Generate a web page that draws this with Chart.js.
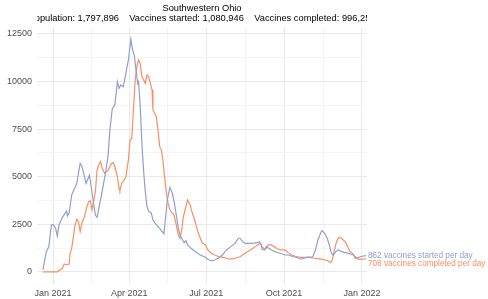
<!DOCTYPE html>
<html>
<head>
<meta charset="utf-8">
<script src="https://cdn.jsdelivr.net/npm/chart.js@4/dist/chart.umd.min.js"></script>
<style>
  html, body { margin: 0; padding: 0; background: #fff; }
  #wrap { width: 488px; height: 299px; }
</style>
</head>
<body>
<div id="wrap"><canvas id="vaxChart" width="488" height="299"></canvas></div>
<script>
// days counted from 1 Jan 2021
const startedDays = [-12,-8,-5,-2,0,3,5,7,11,16,17,19,22,28,32,34,39,41,43,47,50,52,57,62,65,67,70,73,75,76,78,80,83,86,89,92,94,96,98,100,101,103,105,107,109,111,113,116,118,122,126,130,131,133,135,138,141,143,146,148,150,153,155,157,159,163,168,174,180,183,187,191,195,200,205,210,215,219,221,224,227,235,241,244,246,247,250,252,255,258,262,268,274,278,284,288,293,296,300,307,310,313,317,318,321,324,327,329,331,334,337,341,345,349,355,359,363,367,370];
const startedValues = [105,1066,1330,2470,2500,2290,1890,2470,2870,3200,2940,3110,4040,4650,5700,5565,4650,4870,5090,3870,2990,2870,4000,5200,6100,7400,8590,8770,9560,9990,9640,9820,9730,10430,11130,12220,11650,11390,10600,9900,10000,8700,6700,5300,4200,3430,3170,3110,2730,2470,2290,2065,2000,2900,3780,4450,4130,3690,2900,2290,1940,1680,1540,1640,1420,1240,1070,890,770,670,580,630,720,890,1155,1330,1500,1770,1770,1590,1500,1500,1540,1590,1420,1190,1155,1330,1240,1155,1070,980,890,890,800,770,670,720,770,800,1155,1680,2120,2170,2030,1770,1330,980,890,1070,1155,1070,1015,980,890,720,800,840,862];

const completedDays = [-12,3,5,8,11,13,16,19,20,22,24,26,28,30,32,34,37,40,42,44,46,50,52,54,56,58,61,65,69,71,73,76,78,79,81,84,86,89,91,93,95,97,99,101,103,105,107,109,111,113,115,117,118,120,122,124,126,128,130,132,134,136,138,140,143,146,148,150,152,154,157,159,162,164,168,171,174,176,180,183,187,191,196,201,205,209,215,221,227,233,239,243,245,247,250,252,254,258,264,268,274,278,282,288,294,302,309,317,325,328,330,332,335,337,339,343,346,349,351,354,357,361,367,370];
const completedValues = [0,0,0,105,190,420,370,420,980,1240,1850,2470,2770,2640,2120,2560,2900,3430,3690,3740,3260,4220,5350,5620,5790,5440,5180,5350,5700,5740,5530,5000,4390,4270,4650,4830,5000,5880,6930,7020,8500,10080,10780,11130,10950,10250,10080,9900,10340,10250,9900,9560,8500,8330,8150,7450,6580,6400,5800,4900,4100,3600,3260,3110,2990,2380,1940,1770,2200,2900,3430,3780,3520,3170,2640,2120,1770,1540,1420,1155,980,890,800,770,720,670,720,800,980,1155,1330,1470,1500,1330,1190,1240,1420,1420,1240,1155,1155,1015,890,800,770,770,720,670,590,490,630,1070,1590,1770,1820,1680,1540,1240,1070,980,720,670,670,708];

// x ticks: quarter starts (labelled) and mid points (minor grid)
const xTickDays = [0, 45, 90, 135, 181, 227, 273, 319, 365];
const xTickLabels = ['Jan 2021', '', 'Apr 2021', '', 'Jul 2021', '', 'Oct 2021', '', 'Jan 2022'];
const yTickValues = [0, 1250, 2500, 3750, 5000, 6250, 7500, 8750, 10000, 11250, 12500];
const yTickLabels = ['0', '', '2500', '', '5000', '', '7500', '', '10000', '', '12500'];

const titleText = 'Southwestern Ohio';
const subtitleText = 'Population: 1,797,896    Vaccines started: 1,080,946    Vaccines completed: 996,259';
const startedLabel = '862 vaccines started per day';
const completedLabel = '708 vaccines completed per day';

const BLUE = '#8da0cb';
const ORANGE = '#fc8d62';
const FONT = '"Liberation Sans", Arial, sans-serif';

function toPoints(days, values) {
    return days.map((d, i) => ({ x: d, y: values[i] }));
}

// 제목과 끝 라벨 그리기
const annotate = {
    id: 'annotate',
    afterDraw(chart) {
        const ctx = chart.ctx;
        const area = chart.chartArea;
        const cx = (area.left + area.right) / 2;
        ctx.save();
        ctx.fillStyle = '#000';
        ctx.textAlign = 'center';
        ctx.textBaseline = 'middle';
        ctx.font = '9.3px ' + FONT;
        ctx.fillText(titleText, cx, 8.5);
        // subtitle is clipped to the panel width
        ctx.save();
        ctx.beginPath();
        ctx.rect(area.left, 0, area.right - area.left, area.top);
        ctx.clip();
        ctx.fillText(subtitleText, cx, 18.5);
        ctx.restore();

        const y = chart.scales.y;
        const yBlue = y.getPixelForValue(startedValues[startedValues.length - 1]);
        let yOrange = y.getPixelForValue(completedValues[completedValues.length - 1]);
        yOrange = Math.max(yOrange, yBlue + 8);
        ctx.textAlign = 'left';
        ctx.font = '8.2px ' + FONT;
        ctx.fillStyle = BLUE;
        ctx.fillText(startedLabel, area.right + 1, yBlue);
        ctx.fillStyle = ORANGE;
        ctx.fillText(completedLabel, area.right + 1, yOrange);
        ctx.restore();
    }
};

const ctx = document.getElementById('vaxChart').getContext('2d');
const vaxChart = new Chart(ctx, {
    type: 'line',
    data: {
        datasets: [
            { label: 'started', data: toPoints(startedDays, startedValues), borderColor: BLUE, borderWidth: 1.2, pointRadius: 0, tension: 0 },
            { label: 'completed', data: toPoints(completedDays, completedValues), borderColor: ORANGE, borderWidth: 1.2, pointRadius: 0, tension: 0 }
        ]
    },
    options: {
        responsive: false,
        animation: false,
        devicePixelRatio: 1,
        layout: { padding: { top: 27.6, right: 121, left: 0, bottom: 0 } },
        plugins: { legend: { display: false }, tooltip: { enabled: false } },
        scales: {
            x: {
                type: 'linear',
                min: -19,
                max: 371,
                afterBuildTicks: scale => { scale.ticks = xTickDays.map(v => ({ value: v })); },
                afterFit: scale => { scale.height = 15.4; },
                border: { display: false },
                grid: {
                    drawTicks: false,
                    color: c => (c.index % 2 === 0 ? '#e9e9e9' : '#f4f4f4'),
                    lineWidth: 1
                },
                ticks: {
                    autoSkip: false,
                    maxRotation: 0,
                    padding: 5,
                    color: '#4d4d4d',
                    font: { family: FONT, size: 9 },
                    callback: (v, i) => xTickLabels[i]
                }
            },
            y: {
                min: -611,
                max: 12831,
                afterBuildTicks: scale => { scale.ticks = yTickValues.map(v => ({ value: v })); },
                afterFit: scale => { scale.width = 37; },
                border: { display: false },
                grid: {
                    drawTicks: false,
                    color: c => (c.index % 2 === 0 ? '#e9e9e9' : '#f4f4f4'),
                    lineWidth: 1
                },
                ticks: {
                    autoSkip: false,
                    padding: 5,
                    color: '#4d4d4d',
                    font: { family: FONT, size: 9 },
                    callback: (v, i) => yTickLabels[i]
                }
            }
        }
    },
    plugins: [annotate]
});
</script>
</body>
</html>
